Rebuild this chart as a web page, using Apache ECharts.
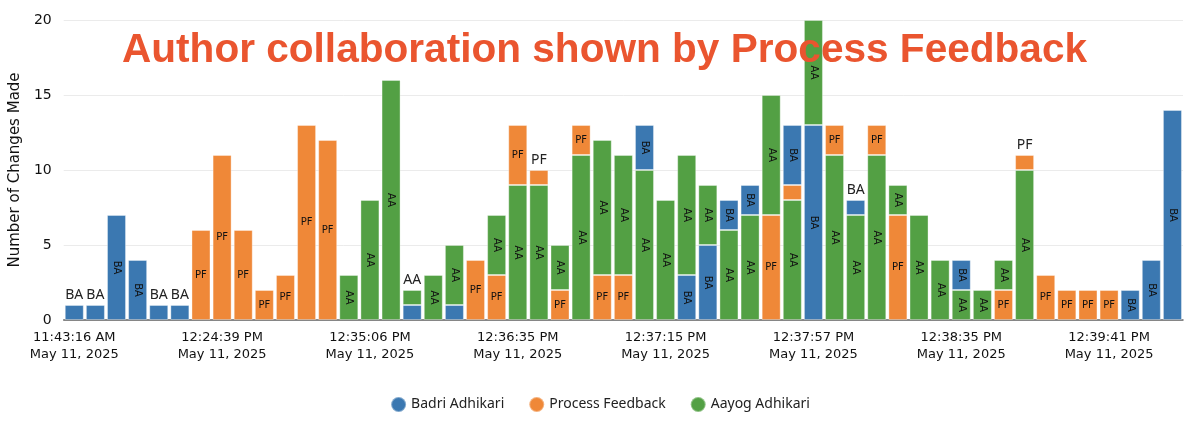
<!DOCTYPE html>
<html>
<head>
<meta charset="utf-8">
<script src="https://cdn.jsdelivr.net/npm/echarts@6/dist/echarts.min.js"></script>
<style>
	html, body { margin: 0; padding: 0; background: #fff; }
	#chart { width: 1200px; height: 429px; }
</style>
</head>
<body>
<div id="chart"></div>
<script>
// one entry per bar (53 bars), values per author
var badri    = [1,1,7,4,1,1,0,0,0,0,0,0,0,0,0,0,1,0,1,0,0,0,0,0,0,0,0,3,0,3,5,2,2,0,4,13,0,1,0,0,0,0,2,0,0,0,0,0,0,0,2,4,14];
var feedback = [0,0,0,0,0,0,6,11,6,2,3,13,12,0,0,0,0,0,0,4,3,4,1,2,2,3,3,0,0,0,0,0,0,7,1,0,2,0,2,7,0,0,0,0,2,1,3,2,2,2,0,0,0];
var aayog    = [0,0,0,0,0,0,0,0,0,0,0,0,0,3,8,16,1,3,4,0,4,9,9,3,11,9,8,10,8,8,4,6,7,8,8,7,11,7,11,2,7,4,2,2,2,10,0,0,0,0,0,0,0];
// stacking order of each bar, bottom to top (B = Badri, P = Process Feedback, A = Aayog)
var order = ["B","B","B","B","B","B","P","P","P","P","P","P","P","A","A","A","BA","A","BA","P","PA","AP","AP","PA",
	"AP","PA","PA","AB","A","BA","BA","AB","AB","PA","APB","BA","AP","AB","AP","PA","A","A","AB","A","PA","AP",
	"P","P","P","P","B","B","B"];
// shown time labels, keyed by bar index
var tickLabels = {
	0: "11:43:16 AM\nMay 11, 2025",
	7: "12:24:39 PM\nMay 11, 2025",
	14: "12:35:06 PM\nMay 11, 2025",
	21: "12:36:35 PM\nMay 11, 2025",
	28: "12:37:15 PM\nMay 11, 2025",
	35: "12:37:57 PM\nMay 11, 2025",
	42: "12:38:35 PM\nMay 11, 2025",
	49: "12:39:41 PM\nMay 11, 2025"
};

var authors = [
	{ key: "B", name: "Badri Adhikari", code: "BA", color: "#3b78b1", data: badri },
	{ key: "P", name: "Process Feedback", code: "PF", color: "#ef8838", data: feedback },
	{ key: "A", name: "Aayog Adhikari", code: "AA", color: "#53a044", data: aayog }
];

var categories = [];
for (var i = 0; i < order.length; i++) categories.push("bar" + i);

function segLabel(a, v, isTop) {
	if (v < 2) {
		// too small to hold the text: only the top segment gets it, above the bar
		if (!isTop) return { show: false };
		return { show: true, position: "top", distance: 3, formatter: a.code,
			fontSize: 14, color: "#222", fontFamily: "Noto Sans" };
	}
	return { show: true, position: "inside", formatter: a.code,
		rotate: a.key == "P" ? 0 : -90, fontSize: 10, color: "#111", fontFamily: "DejaVu Sans" };
}

function each(arr, fn) {
	for (var i = 0; i < arr.length; i++) fn(arr[i]);
}

var series = [];
for (var level = 0; level < 3; level++) {
	each(authors, function(a) {
		var vals = [];
		var any = false;
		for (var i = 0; i < order.length; i++) {
			var s = order[i];
			if (s.charAt(level) == a.key) {
				var v = a.data[i];
				vals.push({ value: v, label: segLabel(a, v, level == s.length - 1) });
				any = true;
			} else {
				vals.push("-");
			}
		}
		if (!any) return;
		series.push({
			name: a.name,
			type: "bar",
			stack: "total",
			barCategoryGap: "10%",
			itemStyle: { color: a.color, borderColor: "rgba(255,255,255,0.35)", borderWidth: 1 },
			emphasis: { disabled: true },
			data: vals
		});
	});
}

var chart = echarts.init(document.getElementById("chart"));
chart.setOption({
	animation: false,
	title: {
		text: "Author collaboration shown by Process Feedback",
		left: 117,
		top: 25,
		textStyle: { color: "#ea552f", fontSize: 40.6, fontWeight: "bold", fontFamily: "Liberation Sans" }
	},
	legend: {
		bottom: 11,
		left: "center",
		icon: "circle",
		itemWidth: 15,
		itemHeight: 15,
		itemGap: 24,
		data: authors.map(function(a) { return { name: a.name, itemStyle: { color: a.color } }; }),
		textStyle: { fontSize: 14, color: "#222", fontFamily: "Noto Sans" }
	},
	grid: { left: 62, right: 17, top: 20, bottom: 109 },
	xAxis: {
		type: "category",
		data: categories,
		axisLine: { lineStyle: { color: "#666", width: 1.5 } },
		axisTick: {
			alignWithLabel: true,
			length: 5,
			lineStyle: { color: "#444" },
			interval: function(idx) { return tickLabels[idx] !== undefined; }
		},
		axisLabel: {
			interval: 0,
			margin: 9,
			lineHeight: 17,
			fontSize: 13,
			color: "#111",
			fontFamily: "DejaVu Sans",
			formatter: function(val, idx) { return tickLabels[idx] || ""; }
		}
	},
	yAxis: {
		type: "value",
		min: 0,
		max: 20,
		interval: 5,
		name: "Number of Changes Made",
		nameLocation: "middle",
		nameGap: 35,
		nameTextStyle: { fontSize: 15, color: "#111", fontFamily: "DejaVu Sans" },
		axisLabel: { fontSize: 14, color: "#111", fontFamily: "DejaVu Sans", margin: 12 },
		splitLine: { lineStyle: { color: "#ebebeb" } }
	},
	series: series
});
</script>
</body>
</html>
